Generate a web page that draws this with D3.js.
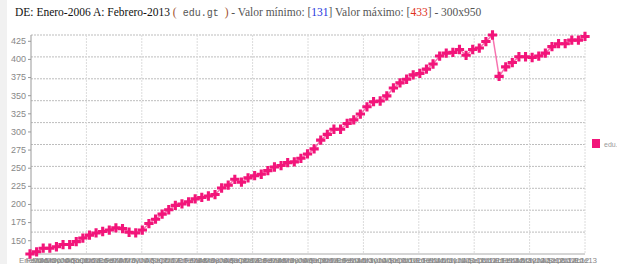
<!DOCTYPE html>
<html>
<head>
<meta charset="utf-8">
<script src="https://cdn.jsdelivr.net/npm/d3@7"></script>
<style>
  body { margin: 0; background: #fff; }
</style>
</head>
<body>
<script>
// monthly values, Enero-2006 onwards
const months = ["Ene","Feb","Mar","Abr","May","Jun","Jul","Ago","Sep","Oct","Nov","Dic"]
const values = [131,134,139,139,141,144,144,148,153,157,160,162,164,167,166,161,160,164,173,179,
    186,192,198,200,203,207,209,211,213,222,226,234,230,236,239,241,246,251,253,257,
    258,263,269,276,288,296,303,303,311,316,324,334,341,342,349,360,367,372,378,380,
    386,393,404,408,409,413,405,413,415,424,433,376,389,395,403,403,402,404,408,417,
    421,421,426,426,431]
const labels = values.map((v, i) => months[i % 12] + String(6 + Math.floor(i / 12)).padStart(2, "0"))
const yTicks = [150,175,200,225,250,275,300,325,350,375,400,425]
const seriesName = "edu."
const vMin = 131, vMax = 433

const W = 617, H = 264
const pink = "#f2157a"

let svg = d3.select("body")
    .append("svg")
    .attr("width", W)
    .attr("height", H)

// grey strip on the left edge
svg.append("rect")
    .attr("x", 0).attr("y", 0)
    .attr("width", 7).attr("height", H)
    .style("fill", "#f1f1f1")

// title
let title = svg.append("text")
    .attr("x", 15)
    .attr("y", 16)
    .style("font-family", "'Liberation Serif', 'DejaVu Serif', serif")
    .style("font-size", "11.5px")
    .style("fill", "#555")
title.append("tspan").style("fill", "#111").text("DE: Enero-2006 A: Febrero-2013 ")
title.append("tspan").style("fill", "#a0522d").text("(")
title.append("tspan").style("font-family", "'Liberation Mono', 'DejaVu Sans Mono', monospace")
    .style("font-size", "10px").text(" edu.gt ")
title.append("tspan").style("fill", "#a0522d").text(")")
title.append("tspan").text(" - Valor mínimo: [")
title.append("tspan").style("fill", "#2233dd").text(vMin)
title.append("tspan").text("] Valor máximo: [")
title.append("tspan").style("fill", "#e03020").text(vMax)
title.append("tspan").text("] - 300x950")

const pLeft = 31, pRight = 585, pTop = 35, pBottom = 254

let x = d3.scalePoint()
    .domain(d3.range(values.length))
    .range([pLeft - 1, pRight])

let y = d3.scaleLinear()
    .domain([vMin, vMax])
    .range([pBottom, pTop])

// grid: ten divisions each way
let hGrid = d3.range(1, 11).map(k => vMin + k * (vMax - vMin) / 10)
svg.selectAll(".hgrid")
    .data(hGrid)
    .enter()
    .append("line")
    .attr("x1", pLeft).attr("x2", pRight)
    .attr("y1", d => y(d)).attr("y2", d => y(d))
    .style("stroke", "#bdbdbd")
    .style("stroke-dasharray", "2,1")

let xg = d3.scaleLinear().domain([0, 10]).range([pLeft, pRight])
svg.selectAll(".vgrid")
    .data(d3.range(1, 11))
    .enter()
    .append("line")
    .attr("x1", d => xg(d)).attr("x2", d => xg(d))
    .attr("y1", pTop).attr("y2", pBottom)
    .style("stroke", "#dcdcdc")
    .style("stroke-dasharray", "2,1")

// y axis
let yAxis = svg.append("g")
    .attr("transform", "translate(" + pLeft + ",0)")
    .call(d3.axisLeft(y).tickValues(yTicks).tickSize(3).tickPadding(2))
yAxis.select(".domain").style("stroke", "#999").attr("d", "M0," + pTop + "V" + pBottom)
yAxis.selectAll(".tick line").style("stroke", "#999")
yAxis.selectAll("text")
    .style("font-family", "'Liberation Sans', Arial, sans-serif")
    .style("font-size", "9px")
    .style("fill", "#888")

// x axis, labels for every month (they overlap)
let xAxis = svg.append("g")
    .attr("transform", "translate(0," + pBottom + ")")
    .call(d3.axisBottom(x).tickFormat(i => labels[i]).tickSize(0).tickPadding(3))
xAxis.select(".domain").style("stroke", "#aaa").attr("d", "M" + pLeft + ",0H" + pRight)
xAxis.selectAll("text")
    .style("font-family", "'Liberation Sans', Arial, sans-serif")
    .style("font-size", "8px")
    .style("fill", "#8a8a8a")

// series
let line = d3.line()
    .x((d, i) => x(i))
    .y(d => y(d))

svg.append("path")
    .datum(values)
    .attr("d", line)
    .style("fill", "none")
    .style("stroke", pink)
    .style("stroke-opacity", 0.6)
    .style("stroke-width", 1.5)

svg.selectAll(".pt")
    .data(values)
    .enter()
    .append("path")
    .attr("d", d3.symbol().type(d3.symbolCross).size(48))
    .attr("transform", (d, i) => "translate(" + x(i) + "," + y(d) + ")")
    .style("fill", pink)

// legend
svg.append("rect")
    .attr("x", 592).attr("y", 139)
    .attr("width", 8).attr("height", 9)
    .style("fill", pink)
svg.append("text")
    .attr("x", 604).attr("y", 147)
    .style("font-family", "'Liberation Sans', Arial, sans-serif")
    .style("font-size", "7px")
    .style("fill", "#999")
    .text(seriesName)
</script>
</body>
</html>
